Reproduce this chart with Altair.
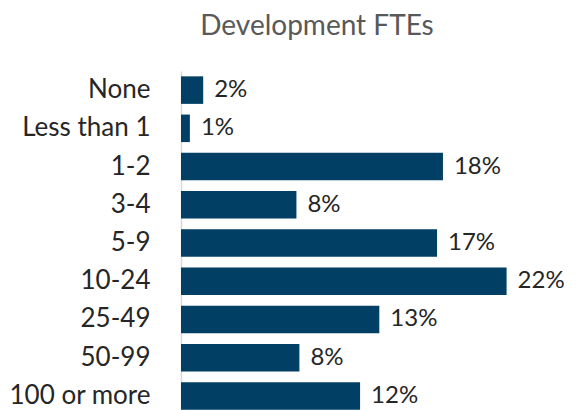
import altair as alt
import pandas as pd

categories = ["None", "Less than 1", "1-2", "3-4", "5-9", "10-24", "25-49", "50-99", "100 or more"]
values = [1.5, 0.6, 17.7, 7.8, 17.3, 22.0, 13.4, 8.0, 12.1]
labels = ["2%", "1%", "18%", "8%", "17%", "22%", "13%", "8%", "12%"]

df = pd.DataFrame({"cat": categories, "val": values, "lab": labels})

FONT = "Lato"
FS = 26
y_enc = alt.Y("cat:N", sort=categories, title=None,
              scale=alt.Scale(paddingInner=0.28, paddingOuter=0.14),
              axis=alt.Axis(domainColor="#d9d9d9", domainWidth=1.5, ticks=False, tickSize=0,
                            labelPadding=31, labelFontSize=FS, labelColor="#262626",
                            labelFont=FONT, grid=False))
x_enc = alt.X("val:Q", title=None, axis=None, scale=alt.Scale(domain=[0, 24.46], nice=False, zero=True))

bars = alt.Chart(df).mark_bar(color="#023F64").encode(x=x_enc, y=y_enc)
text = alt.Chart(df).mark_text(align="left", baseline="middle", dx=11, fontSize=24,
                               font=FONT, color="#262626").encode(x=x_enc, y=y_enc, text="lab:N")

chart = (bars + text).properties(
    width=362, height=344,
    title=alt.TitleParams("Development FTEs", anchor="middle", fontSize=28, color="#595959",
                          font=FONT, fontWeight="normal", offset=30, dx=-45),
    autosize=alt.AutoSizeParams(type="none"),
    padding={"left": 173, "top": 63, "right": 25, "bottom": 0},
).configure_view(stroke=None)

chart.save("out.html", embed_options={"renderer": "svg", "actions": False})
